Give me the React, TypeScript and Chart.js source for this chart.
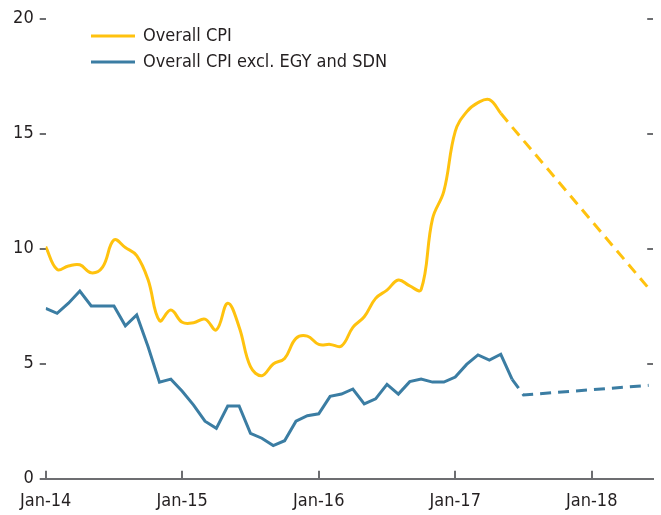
import { useEffect, useRef } from 'react';
import { Chart, registerables } from 'chart.js';

Chart.register(...registerables);

// Monthly data, index 0 = Jan-14
const overallCPI = [
  10.09, 9.1, 9.25, 9.3, 8.95, 9.2, 10.38, 10.05, 9.7, 8.65, 6.87, 7.33,
  6.8, 6.78, 6.94, 6.47, 7.63, 6.6, 4.87, 4.48, 4.99, 5.23, 6.1, 6.2,
  5.84, 5.84, 5.77, 6.58, 7.04, 7.84, 8.2, 8.64, 8.38, 8.22, 11.3, 12.5,
  15.1, 15.95, 16.35, 16.48, 15.89,
];
const exclEgySdn = [
  7.41, 7.19, 7.63, 8.16, 7.51, 7.51, 7.51, 6.65, 7.12, 5.74, 4.2, 4.33,
  3.8, 3.2, 2.5, 2.19, 3.16, 3.16, 1.97, 1.76, 1.44, 1.65, 2.5, 2.74,
  2.82, 3.58, 3.68, 3.9, 3.25, 3.47, 4.1, 3.68, 4.22, 4.33, 4.2, 4.2,
  4.42, 4.97, 5.38, 5.16, 5.41, 4.32,
];
// Projections (dashed)
const overallProjMonths = [40, 41, 53];
const overallProjValues = [15.89, 15.29, 8.28];
const exclProjMonths = [41, 42, 53];
const exclProjValues = [4.32, 3.64, 4.06];

const tickMonths = [0, 12, 24, 36, 48];
const tickLabels = ['Jan-14', 'Jan-15', 'Jan-16', 'Jan-17', 'Jan-18'];
const seriesLabels = ['Overall CPI', 'Overall CPI excl. EGY and SDN'];

const YELLOW = '#FFC20E';
const BLUE = '#3B7DA3';
const TEXT = '#231F20';
const GREY = '#6D6E71';
const FONT = "'Liberation Sans Narrow', 'Arial Narrow', 'DejaVu Sans Condensed', sans-serif";
const FSIZE = 18;

const legendPlugin = {
  id: 'customLegend',
  afterDraw(chart: any) {
    const ctx = chart.ctx;
    const items = [
      { label: seriesLabels[0], color: YELLOW, y: 36 },
      { label: seriesLabels[1], color: BLUE, y: 62 },
    ];
    ctx.save();
    for (const it of items) {
      ctx.strokeStyle = it.color;
      ctx.lineWidth = 3;
      ctx.setLineDash([]);
      ctx.beginPath();
      ctx.moveTo(91, it.y);
      ctx.lineTo(135, it.y);
      ctx.stroke();
      ctx.fillStyle = TEXT;
      ctx.font = `${FSIZE}px ${FONT}`;
      ctx.textBaseline = 'middle';
      ctx.textAlign = 'left';
      ctx.fillText(it.label, 143, it.y);
    }
    ctx.restore();
  },
};

export default function App() {
  const ref = useRef<HTMLCanvasElement>(null);

  useEffect(() => {
    if (!ref.current) return;
    const toPts = (vals: number[]) => vals.map((v, i) => ({ x: i, y: v }));
    const toPts2 = (ms: number[], vals: number[]) => ms.map((m, i) => ({ x: m, y: vals[i] }));
    const chart = new Chart(ref.current, {
      type: 'line',
      data: {
        datasets: [
          {
            label: seriesLabels[0],
            data: toPts(overallCPI),
            borderColor: YELLOW,
            borderWidth: 3,
            tension: 0.4,
            pointRadius: 0,
            yAxisID: 'y',
          },
          {
            label: seriesLabels[1],
            data: toPts(exclEgySdn),
            borderColor: BLUE,
            borderWidth: 3,
            tension: 0,
            pointRadius: 0,
            yAxisID: 'y',
          },
          {
            label: 'proj1',
            data: toPts2(overallProjMonths, overallProjValues),
            borderColor: YELLOW,
            borderWidth: 3,
            borderDash: [11, 7],
            tension: 0,
            pointRadius: 0,
            yAxisID: 'y',
          },
          {
            label: 'proj2',
            data: toPts2(exclProjMonths, exclProjValues),
            borderColor: BLUE,
            borderWidth: 3,
            borderDash: [11, 7],
            tension: 0,
            pointRadius: 0,
            yAxisID: 'y',
          },
        ],
      },
      options: {
        animation: false,
        responsive: true,
        maintainAspectRatio: false,
        layout: { padding: { top: 18.7, right: 7.8, bottom: 0, left: 0 } },
        plugins: { legend: { display: false }, tooltip: { enabled: false } },
        scales: {
          x: {
            type: 'linear',
            min: 0,
            max: 53.4,
            afterBuildTicks: (ax: any) => {
              ax.ticks = tickMonths.map((v) => ({ value: v }));
            },
            afterFit: (s: any) => {
              s.height = 36.3;
            },
            ticks: {
              autoSkip: false,
              maxRotation: 0,
              padding: 20,
              color: TEXT,
              font: { family: FONT, size: FSIZE },
              callback: (_v: any, i: number) => tickLabels[i],
            },
            grid: { drawOnChartArea: false, tickLength: -8, color: GREY, lineWidth: 2 },
            border: { display: true, color: GREY, width: 2 },
          },
          y: {
            position: 'left',
            min: 0,
            max: 20,
            afterFit: (s: any) => {
              s.width = 45;
            },
            ticks: { stepSize: 5, padding: 6, color: TEXT, font: { family: FONT, size: FSIZE } },
            grid: { drawOnChartArea: false, tickLength: 6, color: GREY, lineWidth: 2 },
            border: { display: false },
          },
          y2: {
            position: 'right',
            min: 0,
            max: 20,
            afterFit: (s: any) => {
              s.width = 0;
            },
            ticks: { stepSize: 5, display: false },
            grid: { drawOnChartArea: false, tickLength: -6, color: GREY, lineWidth: 2 },
            border: { display: false },
          },
        },
      },
      plugins: [legendPlugin],
    });
    return () => chart.destroy();
  }, []);

  return (
    <div style={{ position: 'absolute', left: 0, top: 0, width: 661, height: 515 }}>
      <canvas ref={ref} />
    </div>
  );
}
